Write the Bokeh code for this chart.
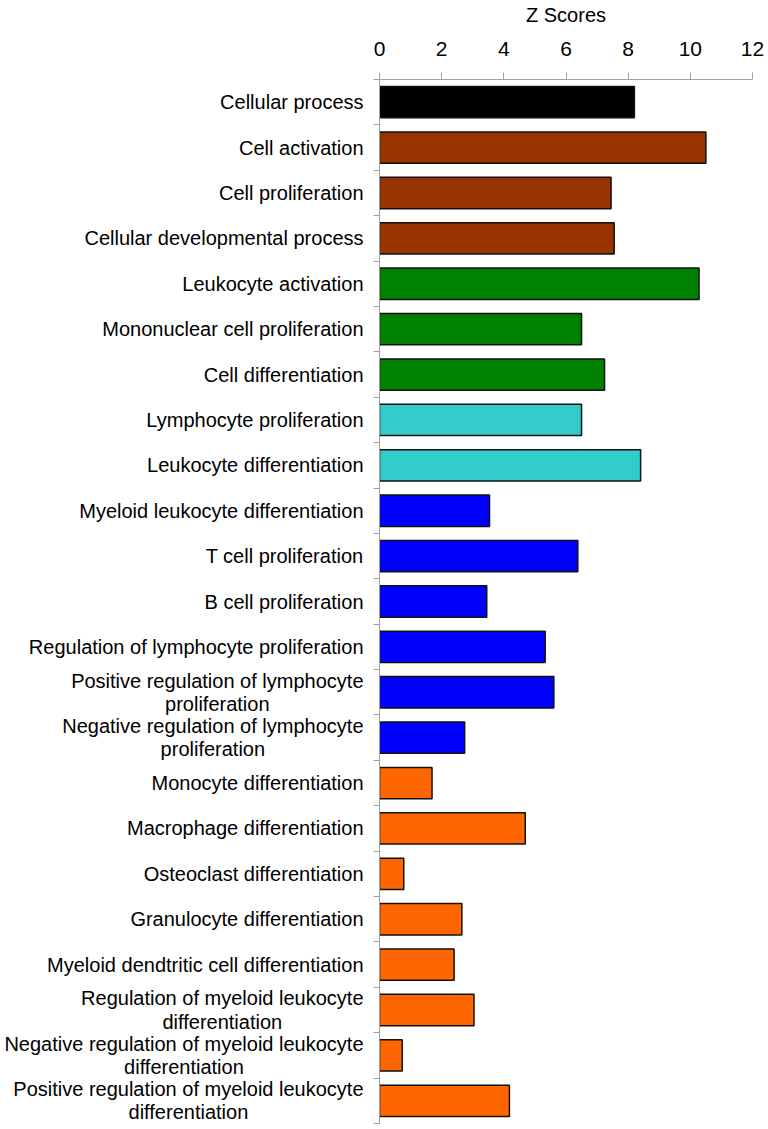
from bokeh.plotting import figure
from bokeh.layouts import row
from bokeh.models import Range1d, FixedTicker, Label
from bokeh.embed import file_html
from bokeh.resources import INLINE

categories = [
    "Cellular process",
    "Cell activation",
    "Cell proliferation",
    "Cellular developmental process",
    "Leukocyte activation",
    "Mononuclear cell proliferation",
    "Cell differentiation",
    "Lymphocyte proliferation",
    "Leukocyte differentiation",
    "Myeloid leukocyte differentiation",
    "T cell proliferation",
    "B cell proliferation",
    "Regulation of lymphocyte proliferation",
    "Positive regulation of lymphocyte\nproliferation",
    "Negative regulation of lymphocyte\nproliferation",
    "Monocyte differentiation",
    "Macrophage differentiation",
    "Osteoclast differentiation",
    "Granulocyte differentiation",
    "Myeloid dendtritic cell differentiation",
    "Regulation of myeloid leukocyte\ndifferentiation",
    "Negative regulation of myeloid leukocyte\ndifferentiation",
    "Positive regulation of myeloid leukocyte\ndifferentiation",
]

z_scores = [8.20, 10.50, 7.45, 7.55, 10.28, 6.50, 7.24, 6.50, 8.40, 3.54, 6.38,
            3.45, 5.33, 5.61, 2.74, 1.69, 4.69, 0.78, 2.65, 2.40, 3.04, 0.73, 4.18]

bar_colors = (["#000000"] + ["#993300"] * 3 + ["#008000"] * 3 + ["#33CCCC"] * 2 +
              ["#0000FF"] * 6 + ["#FF6600"] * 8)

x_ticks = [0, 2, 4, 6, 8, 10, 12]

n = len(categories)
ys = list(range(n))
FONT = "Liberation Sans"
H = 1125

# label panel (left)
lab = figure(width=364, height=H, output_backend="svg", toolbar_location=None,
             x_axis_type=None, y_axis_type=None,
             x_range=Range1d(0, 1), y_range=Range1d(n - 0.5, -0.5),
             min_border_left=0, min_border_right=0, min_border_top=78,
             min_border_bottom=2)
lab.grid.visible = False
lab.outline_line_color = None
for yi, name in zip(ys, categories):
    lab.add_layout(Label(x=1, y=yi, x_offset=-1, text=name, anchor="center_right",
                         text_align="center", text_baseline="middle",
                         text_font=FONT, text_font_size="20px", text_color="black",
                         text_line_height=1.05))

# bar chart
p = figure(width=404, height=H, output_backend="svg", toolbar_location=None,
           x_axis_location="above",
           x_range=Range1d(0, 12), y_range=Range1d(n - 0.5, -0.5),
           min_border_left=15, min_border_right=16, min_border_top=78,
           min_border_bottom=2)

p.hbar(y=ys, left=0, right=z_scores, height=0.69, fill_color=bar_colors,
       line_color="#111111", line_width=1.5)

p.grid.visible = False
p.outline_line_color = None

xa = p.xaxis[0]
xa.ticker = FixedTicker(ticks=x_ticks)
xa.axis_label = "Z Scores"
xa.axis_label_text_font = FONT
xa.axis_label_text_font_size = "20px"
xa.axis_label_text_font_style = "normal"
xa.axis_label_text_color = "black"
xa.axis_label_standoff = 13
xa.major_label_text_font = FONT
xa.major_label_text_font_size = "21px"
xa.major_label_text_color = "black"
xa.major_label_standoff = 17
xa.axis_line_color = "#a0a0a0"
xa.major_tick_line_color = "#a0a0a0"
xa.major_tick_out = 7
xa.major_tick_in = 0
xa.minor_tick_line_color = None

ya = p.yaxis[0]
ya.ticker = FixedTicker(ticks=ys, minor_ticks=[i - 0.5 for i in range(n + 1)])
ya.major_label_text_font_size = "0px"
ya.major_label_text_color = None
ya.major_label_standoff = 0
ya.major_tick_out = 0
ya.major_tick_in = 0
ya.major_tick_line_color = None
ya.minor_tick_out = 6
ya.minor_tick_in = 0
ya.minor_tick_line_color = "#a0a0a0"
ya.axis_line_color = "#a0a0a0"

layout = row(lab, p, spacing=0)
open("out.html", "w").write(file_html(layout, INLINE))
